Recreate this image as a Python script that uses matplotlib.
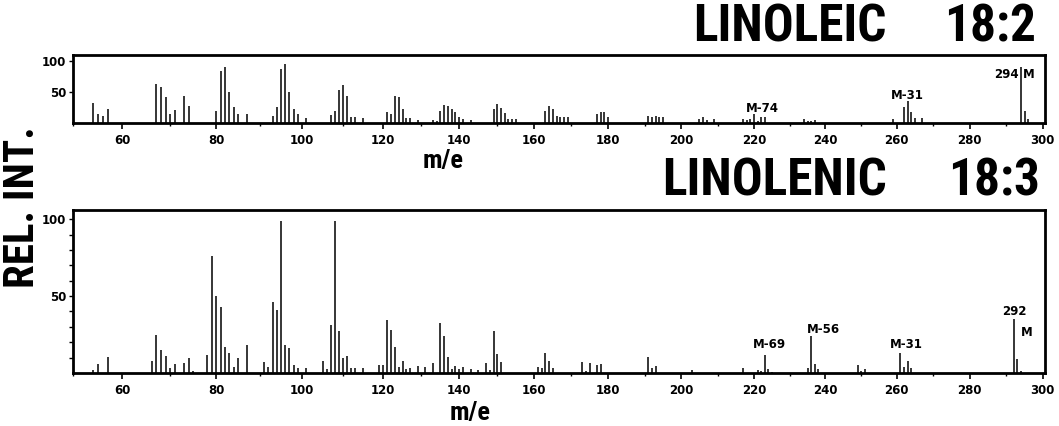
import numpy as np
import matplotlib
matplotlib.use("Agg")
import matplotlib.pyplot as plt
from matplotlib import font_manager
from matplotlib.font_manager import FontProperties
from matplotlib.ticker import FixedLocator

# LINOLEIC 18:2 (upper spectrum)
mz_18_2 = [54, 55, 56, 57,
           67, 68, 69, 70, 71, 73, 74,
           80, 81, 82, 83, 84, 85, 87,
           93, 94, 95, 96, 97, 98, 99, 101,
           107, 108, 109, 110, 111, 112, 113, 115,
           121, 122, 123, 124, 125, 126, 127, 129,
           133, 134, 135, 136, 137, 138, 139, 140, 141, 143,
           149, 150, 151, 152, 153, 154, 155,
           163, 164, 165, 166, 167, 168, 169,
           177, 178, 179, 180,
           191, 192, 193, 194, 195,
           205, 206, 207, 209,
           217, 218, 219, 220, 221, 222, 223,
           234, 235, 236, 237,
           259, 262, 263, 264, 265, 267,
           294, 295, 296]
int_18_2 = [33, 15, 12, 23,
            63, 59, 42, 14, 21, 43, 27,
            20, 84, 90, 50, 26, 15, 14,
            11, 26, 87, 95, 50, 22, 15, 8,
            13, 20, 54, 62, 44, 10, 10, 8,
            17, 14, 44, 42, 22, 8, 8, 5,
            5, 4, 20, 29, 27, 23, 18, 9, 6, 5,
            23, 31, 24, 16, 7, 7, 6,
            20, 28, 22, 11, 10, 9, 9,
            14, 18, 18, 10,
            11, 9, 12, 9, 10,
            6, 9, 5, 7,
            7, 5, 6, 14, 4, 9, 9,
            6, 4, 4, 5,
            7, 26, 36, 18, 8, 8,
            90, 19, 6]

# LINOLENIC 18:3 (lower spectrum)
mz_18_3 = [54, 55, 57,
           66, 67, 68, 69, 70, 71, 73, 74, 75,
           78, 79, 80, 81, 82, 83, 84, 85, 87,
           91, 92, 93, 94, 95, 96, 97, 98, 99, 101,
           105, 106, 107, 108, 109, 110, 111, 112, 113, 115,
           119, 120, 121, 122, 123, 124, 125, 126, 127, 129, 131, 133,
           135, 136, 137, 138, 139, 140, 141, 143, 145, 147, 148,
           149, 150, 151,
           161, 162, 163, 164, 165,
           173, 174, 175, 177, 178,
           191, 192, 193, 203,
           217, 221, 222, 223, 224, 225,
           235, 236, 237, 238,
           249, 250, 251,
           261, 262, 263, 264,
           292, 293, 294]
int_18_3 = [2, 6, 10.5,
            8, 24.5, 15, 11, 3, 6, 6.5, 10, 1.5,
            12, 76, 50, 43, 17, 13, 4, 10, 18,
            7, 4, 46, 41, 99, 18.5, 16, 5, 3, 3,
            7.5, 2.5, 31.5, 99, 27, 10, 11, 3, 3, 3,
            5.5, 5, 34.5, 28, 17, 4, 8, 2.6, 3.2, 4.5, 4, 6.4,
            32.5, 24, 10.5, 2.4, 4.5, 2.8, 4, 2.8, 2, 6.2, 2,
            27.5, 12.5, 7,
            4, 3, 13, 8, 3,
            7.3, 1.5, 6.4, 5, 5.8,
            10.7, 3.4, 4.3, 2,
            3, 2, 1, 11.4, 2.8, 0.8,
            3, 24, 5.6, 2.8,
            5, 1.5, 2.4,
            12.7, 3.9, 8, 3,
            35, 8.8, 1.3]

# the recorder's m/e axis is not linear: calibration taken from the chart
scale_mz = [50, 55, 67, 81, 95, 109, 123, 136, 150, 178, 220, 263, 294, 301]
scale_pos = [74, 99, 157.3, 221.7, 282, 340, 395.7, 444.7, 498, 601.3, 754.3, 907.7, 1021, 1046.5]


def fwd(m):
    return np.interp(m, scale_mz, scale_pos)


def inv(p):
    return np.interp(p, scale_pos, scale_mz)


def find_condensed_bold():
    # look for a narrow heavy face among the installed fonts
    wanted = ['robotocondensed-black', 'robotocondensed-bold', 'opensans-condbold',
              'opensans-condensedextrabold', 'opensans-condensedbold',
              'notosans-extracondensedblack', 'notosans-extracondensedextrabold',
              'notosans-extracondensedbold', 'notosans-condensedblack',
              'notosans-condensedbold', 'liberationsansnarrow-bold',
              'dejavusanscondensed-bold']
    files = [f.fname for f in font_manager.fontManager.ttflist]
    for w in wanted:
        for fn in files:
            base = fn.split('/')[-1].lower().replace('_', '-').replace(' ', '')
            if base.startswith(w) and 'italic' not in base:
                return FontProperties(fname=fn)
    return FontProperties(family='DejaVu Sans', weight='bold', stretch='condensed')


big_fp = find_condensed_bold()
small_font = 'DejaVu Sans'

W, H = 1059, 426
fig = plt.figure(figsize=(W / 100, H / 100), dpi=100)

ax1 = fig.add_axes([73 / W, 1 - 123 / H, 972 / W, 68 / H])
ax2 = fig.add_axes([73 / W, 1 - 373 / H, 972 / W, 163 / H])

for ax, mz, inten, ytop in [(ax1, mz_18_2, int_18_2, 110), (ax2, mz_18_3, int_18_3, 106)]:
    ax.set_xscale('function', functions=(fwd, inv))
    ax.vlines(mz, 0, inten, color='black', lw=1.1)
    ax.set_xlim(49.8, 300.6)
    ax.set_ylim(0, ytop)
    ax.xaxis.set_major_locator(FixedLocator(np.arange(60, 301, 20)))
    ax.xaxis.set_minor_locator(FixedLocator(np.arange(50, 300, 10)))
    ax.set_yticks([50, 100])
    for s in ax.spines.values():
        s.set_linewidth(2.0)
    ax.tick_params(axis='x', which='major', direction='out', length=4, width=1.2, pad=4,
                   labelsize=8.5)
    ax.tick_params(axis='x', which='minor', direction='out', length=2.5, width=1.0)
    ax.tick_params(axis='y', which='both', direction='out', length=3, width=1.0, pad=2,
                   labelsize=8.5)
    for lab in ax.get_xticklabels() + ax.get_yticklabels():
        lab.set_fontfamily(small_font)
        lab.set_fontweight('bold')

ax2.yaxis.set_minor_locator(FixedLocator(np.arange(10, 101, 10)))

ann = dict(fontsize=8.5, fontweight='bold', family=small_font, va='center')
ax1.text(222.3, 24, 'M-74', ha='center', **ann)
ax1.text(263, 45, 'M-31', ha='center', **ann)
ax1.text(293.3, 79, '294', ha='right', **ann)
ax1.text(294.6, 79, 'M', ha='left', **ann)

ax2.text(224.3, 18.5, 'M-69', ha='center', **ann)
ax2.text(239.4, 28, 'M-56', ha='center', **ann)
ax2.text(262.7, 18.5, 'M-31', ha='center', **ann)
ax2.text(292.2, 40, '292', ha='center', **ann)
ax2.text(295.5, 26.5, 'M', ha='center', **ann)

title = dict(va='center', ha='right', fontproperties=big_fp, fontsize=37)
fig.text(887 / W, 1 - 27 / H, 'LINOLEIC', **title)
fig.text(1036 / W, 1 - 27 / H, '18:2', **title)
fig.text(887 / W, 1 - 181 / H, 'LINOLENIC', **title)
fig.text(1040 / W, 1 - 181 / H, '18:3', **title)

fig.text(443 / W, 1 - 161 / H, 'm/e', ha='center', va='center',
         fontproperties=big_fp, fontsize=19)
fig.text(470 / W, 1 - 413 / H, 'm/e', ha='center', va='center',
         fontproperties=big_fp, fontsize=19)
fig.text(22 / W, 1 - 207 / H, 'REL. INT.', ha='center', va='center', rotation=90,
         fontproperties=big_fp, fontsize=31)

fig.savefig('out.png', dpi=100)
